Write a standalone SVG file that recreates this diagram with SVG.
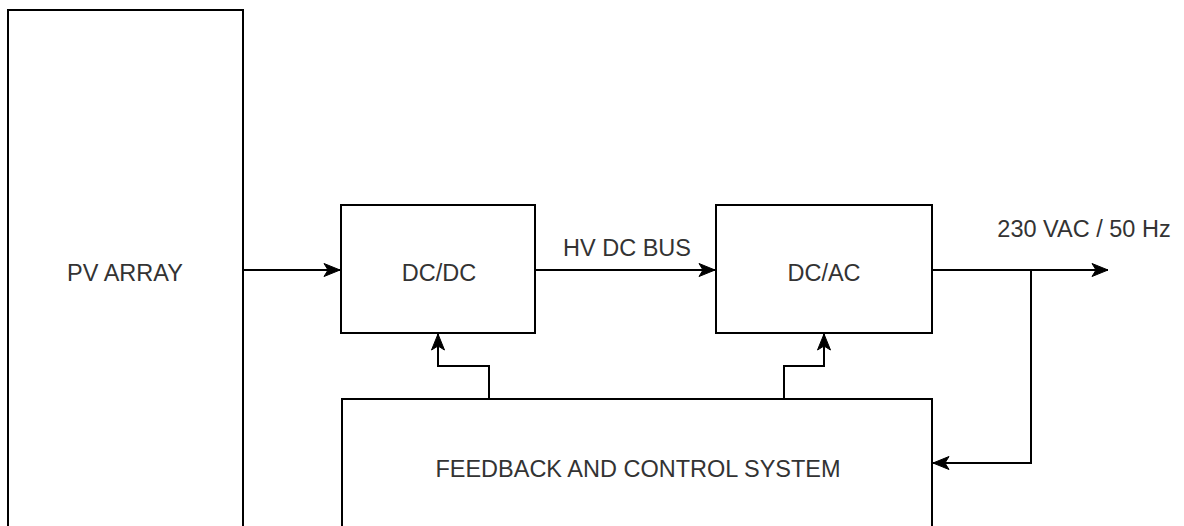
<svg xmlns="http://www.w3.org/2000/svg" width="1184" height="526" viewBox="0 0 1184 526">
<style>
.box{fill:#fff;stroke:#000;stroke-width:2}
.lbl{font-family:"Liberation Sans",Arial,sans-serif;font-size:23.5px;fill:#333;text-anchor:middle}
.ln{fill:none;stroke:#000;stroke-width:2;marker-end:url(#ah)}
</style>
<defs>
<marker id="ah" markerUnits="userSpaceOnUse" markerWidth="18" markerHeight="16" viewBox="0 0 18 16" refX="17" refY="8" orient="auto">
<path d="M17,8 L1,1.5 L5,8 L1,14.5 Z" fill="#000" stroke="#000" stroke-width="1"/>
</marker>
</defs>
<rect width="1184" height="526" fill="#fff"/>
<g id="pv-array">
<rect class="box" x="8" y="10" width="235" height="540"/>
<text class="lbl" x="125" y="281">PV ARRAY</text>
</g>
<g id="dcdc">
<rect class="box" x="341" y="205" width="194" height="128"/>
<text class="lbl" x="439" y="281">DC/DC</text>
</g>
<g id="dcac">
<rect class="box" x="716" y="205" width="216" height="128"/>
<text class="lbl" x="824" y="281">DC/AC</text>
</g>
<g id="feedback">
<rect class="box" x="342" y="399" width="590" height="150"/>
<text class="lbl" x="638" y="477">FEEDBACK AND CONTROL SYSTEM</text>
</g>
<g id="connectors">
<path class="ln" d="M243,270 H340"/>
<path class="ln" d="M535,270 H715"/>
<text class="lbl" x="627" y="256">HV DC BUS</text>
<path class="ln" d="M932,270 H1108"/>
<text class="lbl" x="1084" y="237">230 VAC / 50 Hz</text>
<path class="ln" d="M1031,270 V463 H933"/>
<path class="ln" d="M489,399 V366 H438 V334"/>
<path class="ln" d="M784,399 V366 H824 V334"/>
</g>
</svg>
